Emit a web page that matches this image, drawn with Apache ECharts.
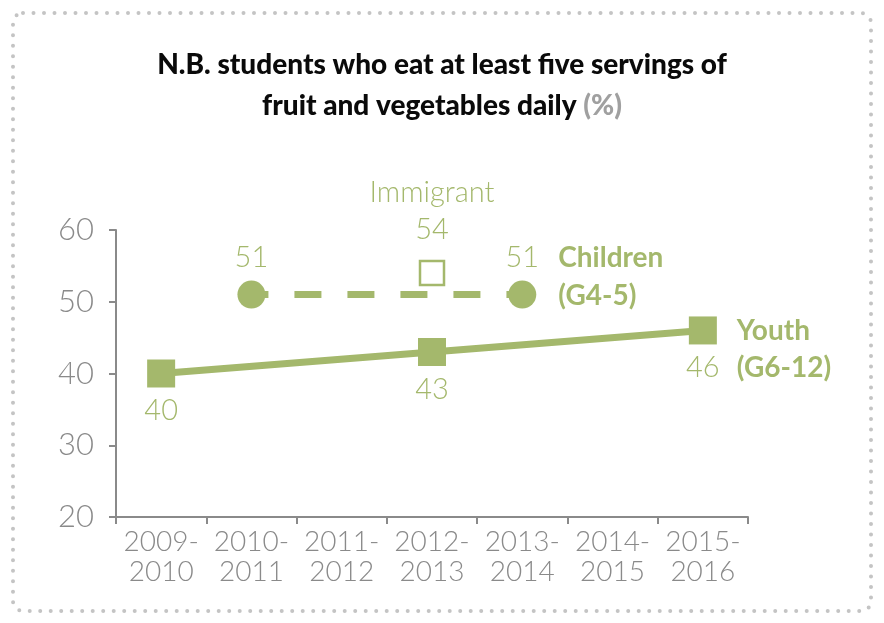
<!DOCTYPE html>
<html>
<head>
<meta charset="utf-8">
<style>
  html, body { margin: 0; padding: 0; background: #fff; }
  #chart { width: 884px; height: 623px; }
</style>
<script src="https://cdn.jsdelivr.net/npm/echarts@6/dist/echarts.min.js"></script>
</head>
<body>
<div id="chart"></div>
<script>
// School years on the x axis
const years = ['2009-\n2010', '2010-\n2011', '2011-\n2012', '2012-\n2013', '2013-\n2014', '2014-\n2015', '2015-\n2016'];
// Percent eating five or more servings of fruit and vegetables daily
const youth = [40, null, null, 43, null, null, 46];
const children = [null, 51, null, null, 51, null, null];
const immigrant = [null, null, null, 54, null, null, null];
const yTicks = [20, 30, 40, 50, 60];

const GREEN = '#a4b86c';
const GREY = '#8a8a8a';
const LIGHT = 'Lato, "Open Sans", sans-serif';
const BOLD = 'Lato, "Open Sans", sans-serif';

const chart = echarts.init(document.getElementById('chart'), null, { renderer: 'canvas' });

chart.setOption({
  animation: false,
  backgroundColor: '#fff',
  title: {
    text: 'N.B. students who eat at least five servings of\nfruit and vegetables daily {p|(%)}',
    left: 'center',
    top: 39,
    textStyle: {
      fontFamily: BOLD, fontWeight: 900, fontSize: 28, color: '#0a0a0a', lineHeight: 41,
      rich: { p: { fontFamily: BOLD, fontWeight: 900, fontSize: 28, color: '#a0a0a0' } }
    }
  },
  graphic: [{
    type: 'rect',
    shape: { x: 13, y: 13, width: 858, height: 598, r: 10 },
    style: { fill: 'none', stroke: '#c4c4c4', lineWidth: 4, lineDash: [0, 10.5], lineCap: 'round' },
    silent: true
  }],
  grid: { left: 116, right: 136, top: 230, bottom: 106 },
  xAxis: {
    type: 'category',
    data: years,
    boundaryGap: true,
    axisLine: { lineStyle: { color: GREY, width: 2 } },
    axisTick: { show: true, length: 7, interval: 0, lineStyle: { color: GREY, width: 2 } },
    axisLabel: { interval: 0, color: GREY, fontFamily: LIGHT, fontWeight: 300, fontSize: 28, lineHeight: 30, margin: 10 },
    splitLine: { show: false }
  },
  yAxis: {
    type: 'value',
    min: yTicks[0],
    max: yTicks[yTicks.length - 1],
    interval: 10,
    axisLine: { show: true, lineStyle: { color: GREY, width: 2 } },
    axisTick: { show: true, length: 7, lineStyle: { color: GREY, width: 2 } },
    axisLabel: { color: GREY, fontFamily: LIGHT, fontWeight: 300, fontSize: 31, margin: 22 },
    splitLine: { show: false }
  },
  series: [
    {
      name: 'Youth (G6-12)',
      type: 'line',
      data: youth,
      connectNulls: true,
      symbol: 'rect',
      symbolSize: 28,
      lineStyle: { color: GREEN, width: 7 },
      itemStyle: { color: GREEN },
      label: {
        show: true, position: 'bottom', distance: 9,
        color: GREEN, fontFamily: LIGHT, fontWeight: 300, fontSize: 29
      },
      endLabel: {
        show: true, formatter: 'Youth\n(G6-12)', distance: 34, offset: [0, 19],
        color: GREEN, fontFamily: BOLD, fontWeight: 'bold', fontSize: 28, lineHeight: 37
      },
      z: 3
    },
    {
      name: 'Children (G4-5)',
      type: 'line',
      data: children,
      connectNulls: true,
      symbol: 'circle',
      symbolSize: 28,
      lineStyle: { color: GREEN, width: 7, type: [27, 26], dashOffset: 10 },
      itemStyle: { color: GREEN },
      label: {
        show: true, position: 'top', distance: 8,
        color: GREEN, fontFamily: LIGHT, fontWeight: 300, fontSize: 29
      },
      endLabel: {
        show: true, formatter: 'Children\n(G4-5)', distance: 36, offset: [0, -18],
        color: GREEN, fontFamily: BOLD, fontWeight: 'bold', fontSize: 28, lineHeight: 38
      },
      z: 3
    },
    {
      name: 'Immigrant',
      type: 'line',
      data: immigrant,
      symbol: 'rect',
      symbolSize: 24,
      showAllSymbol: true,
      lineStyle: { width: 0 },
      itemStyle: { color: '#fff', borderColor: GREEN, borderWidth: 2.5 },
      label: {
        show: true, position: 'top', distance: 14,
        formatter: p => '{n|Immigrant}\n{v|' + p.value + '}',
        rich: {
          n: { color: GREEN, fontFamily: LIGHT, fontWeight: 300, fontSize: 29, lineHeight: 42 },
          v: { color: GREEN, fontFamily: LIGHT, fontWeight: 300, fontSize: 29, lineHeight: 32 }
        }
      },
      z: 4
    }
  ]
});
</script>
</body>
</html>
